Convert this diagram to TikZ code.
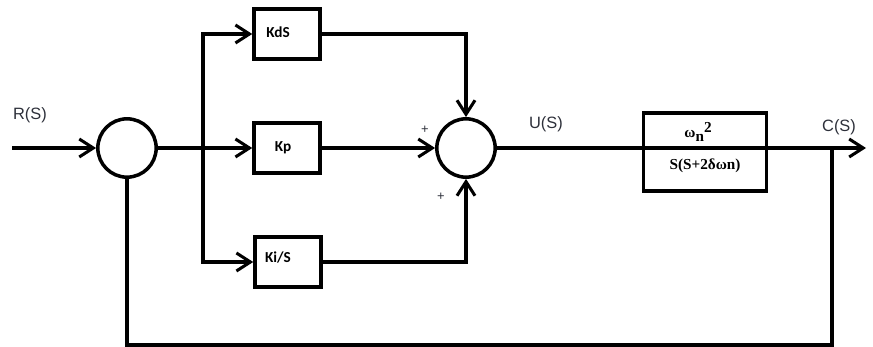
\documentclass[tikz,border=0pt]{standalone}
\usepackage{fontspec}
\setmainfont{Liberation Serif}
\setsansfont{Liberation Sans}
\newfontfamily\boxfont{Carlito}
\usetikzlibrary{arrows.meta}
\definecolor{labelgray}{RGB}{45,48,58}

\begin{document}
\begin{tikzpicture}[x=0.03cm,y=-0.03cm,line width=3pt,
  >={Straight Barb[length=4.2mm,width=5.4mm,line width=2.6pt]},
  sumnode/.style={draw,circle,minimum size=1.75cm,inner sep=0pt},
  gainbox/.style={draw,minimum width=1.98cm,minimum height=1.5cm,inner sep=0pt},
  gaintext/.style={font=\boxfont\bfseries\fontsize{13}{15}\selectfont,inner sep=0pt},
  sig/.style={font=\sffamily\fontsize{14}{16}\selectfont,text=labelgray,inner sep=0pt},
  sign/.style={font=\sffamily\fontsize{11}{12}\selectfont,text=labelgray,inner sep=0pt}]
\useasboundingbox (0,0) rectangle (873,347);
% blocks
\node[sumnode] (sum1) at (127,148) {};
\node[sumnode] (sum2) at (466,148) {};
\node[gainbox,label={[gaintext,xshift=-0.27cm,yshift=0.06cm]center:KdS}] (kd) at (287,34) {};
\node[gainbox,label={[gaintext,xshift=-0.12cm]center:Kp}] (kp) at (287,148) {};
\node[gainbox,label={[gaintext,xshift=-0.3cm,yshift=0.12cm]center:Ki/S}] (ki) at (288,262) {};
\node[draw,minimum width=3.7cm,minimum height=2.33cm,inner sep=0pt] (plant) at (705,152) {};
\node[font=\bfseries\fontsize{13}{15}\selectfont,inner sep=0pt] (num) at (698,132)
  {ω\raisebox{-3pt}{n}\raisebox{4pt}{2}};
\node[font=\bfseries\fontsize{13}{15}\selectfont,inner sep=0pt] (den) at (705,166) {S(S+2δωn)};
% signals
\coordinate (in) at (12,148);
\coordinate (split) at (203,148);
\coordinate (out) at (866,148);
\coordinate (tap) at (832,148);
\coordinate (fb) at (832,345);
\node[sig] (rs) at (30,115) {R(S)};
\node[sig] (us) at (546,124) {U(S)};
\node[sig] (cs) at (839,127) {C(S)};
\node[sign] (pa) at (425,130) {+};
\node[sign] (pb) at (441,197) {+};
% connections
\draw[->] (in) -- (sum1.west);
\draw (sum1.east) -- (split);
\draw[->] (split) |- (kd.west);
\draw[->] (split) -- (kp.west);
\draw[->] (split) |- (ki.west);
\draw[->] (kd.east) -| (sum2.north);
\draw[->] (kp.east) -- (sum2.west);
\draw[->] (ki.east) -| (sum2.south);
\draw[->] (sum2.east) -- (out);
\draw (tap) -- (fb) -| (sum1.south);
\end{tikzpicture}
\end{document}
